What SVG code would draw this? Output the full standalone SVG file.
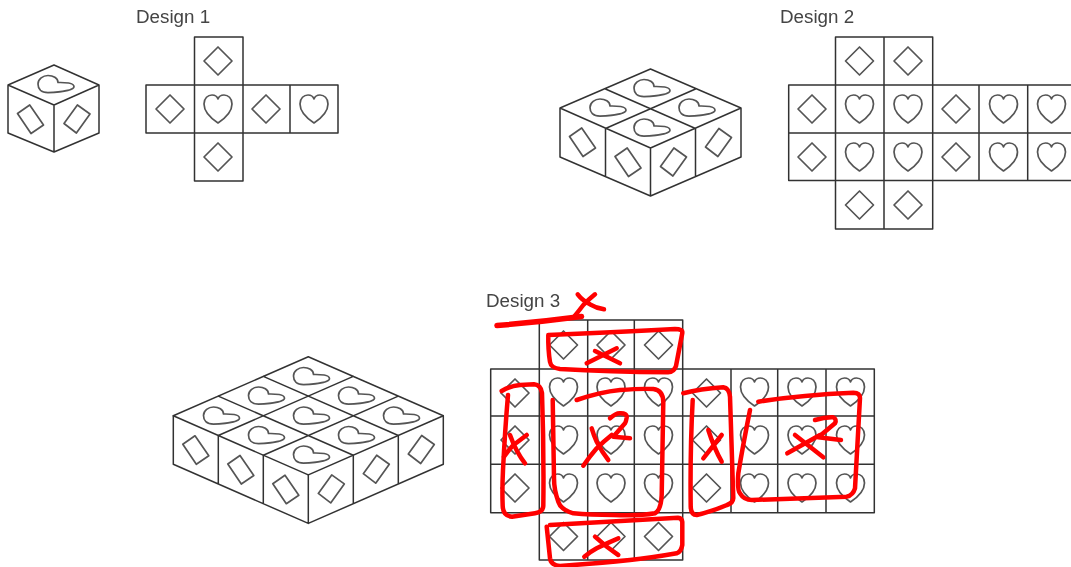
<svg xmlns="http://www.w3.org/2000/svg" width="1071" height="567" viewBox="0 0 1071 567">
<style>
.ln{fill:none;stroke:#333;stroke-width:1.5;stroke-linejoin:round;stroke-linecap:round}
.sh{fill:none;stroke:#555;stroke-width:1.7;stroke-linejoin:round}
.lb{font-family:"Liberation Sans",Arial,sans-serif;font-size:18.8px;fill:#444}
.rd{fill:none;stroke:#f00;stroke-width:4.5;stroke-linecap:round;stroke-linejoin:round}
</style>
<defs>
<filter id="soft" x="-2%" y="-2%" width="104%" height="104%"><feGaussianBlur stdDeviation="0.35"/></filter>
<path id="d" class="sh" d="M0,-14L14,0L0,14L-14,0Z"/>
<path id="h" class="sh" d="M0,14C-6,10 -14,4 -14,-5C-14,-11 -10,-14 -6,-14C-3,-14 -1,-13 0,-10C1,-13 3,-14 6,-14C10,-14 14,-11 14,-5C14,4 6,10 0,14Z"/>
<path id="t" class="sh" d="M18,2.700C18,6 6,8 -8,8.700C-15,8.700 -18,5 -18,0C-18,-5 -13,-8.500 -8,-8.500C-3,-8.500 2,-6 2,-1.500C7,-1.500 18,-2 18,2.700Z"/>
<path id="l" class="sh" d="M9.500,28.500L21.700,20L35.500,40L23,48.500Z"/>
<path id="r" class="sh" d="M10,18.500L23.400,0L36,9L22.400,28Z"/>
</defs>

<g id="design-1" filter="url(#soft)">
<text class="lb" x="136" y="22.500">Design 1</text>
<g id="cube-1">
<path class="ln" d="M54,65L99,85L54,105L8,85ZM8,85V133L54,152L99,133V85M54,105V152"/>
<use href="#t" x="56" y="84"/><use href="#l" x="8" y="85"/><use href="#r" x="54" y="105"/>
</g>
<g id="net-1">
<path class="ln" d="M194.500,37H243V181H194.500ZM146,85H338V133H146ZM194.500,85V133M243,85V133M290,85V133"/>
<use href="#d" x="218" y="61"/><use href="#d" x="170" y="109"/><use href="#h" x="218" y="109"/><use href="#d" x="266" y="109"/><use href="#h" x="314" y="109"/><use href="#d" x="218" y="157"/>
</g>
</g>

<g id="design-2" filter="url(#soft)">
<text class="lb" x="780" y="22.500">Design 2</text>
<g id="cube-2">
<path class="ln" d="M650.500,69L741,108L650.500,148L560,108ZM605.500,89L695.500,128.500M695.500,89L605.500,128.500M560,108V157L650.500,196L741,157V108M605.500,128.500V176.500M650.500,148V196M695.500,128.500V176.500"/>
<use href="#t" x="652" y="88"/><use href="#t" x="608" y="107.500"/><use href="#t" x="697" y="107.500"/><use href="#t" x="652" y="127.500"/>
<use href="#l" x="560" y="108"/><use href="#l" x="605.500" y="128"/><use href="#r" x="650.500" y="148"/><use href="#r" x="695.500" y="128.500"/>
</g>
<g id="net-2">
<path class="ln" d="M835.500,37H932.700V229H835.500ZM884,37V229M788.700,85H1072M788.700,133H1072M788.700,180.500H1072M788.700,85V180.500M979,85V180.500M1027.700,85V180.500"/>
<use href="#d" x="859.500" y="61"/><use href="#d" x="908" y="61"/>
<use href="#d" x="812" y="109"/><use href="#h" x="859.500" y="109"/><use href="#h" x="908" y="109"/><use href="#d" x="956" y="109"/><use href="#h" x="1003.500" y="109"/><use href="#h" x="1051.500" y="109"/>
<use href="#d" x="812" y="157"/><use href="#h" x="859.500" y="157"/><use href="#h" x="908" y="157"/><use href="#d" x="956" y="157"/><use href="#h" x="1003.500" y="157"/><use href="#h" x="1051.500" y="157"/>
<use href="#d" x="859.500" y="205"/><use href="#d" x="908" y="205"/>
</g>
</g>

<g id="design-3" filter="url(#soft)">
<text class="lb" x="486" y="306.500">Design 3</text>
<g id="cube-3">
<path class="ln" d="M308.300,356.700L443.300,415.800M263.300,376.400L398.300,435.500M218.300,396.100L353.300,455.200M173.300,415.800L308.300,474.900M308.300,356.700L173.300,415.800M353.300,376.400L218.300,435.500M398.300,396.100L263.300,455.200M443.300,415.800L308.300,474.900"/>
<path class="ln" d="M173.300,415.800V464.300L308.300,523.400L443.300,464.300V415.800M218.300,435.500V484M263.300,455.200V503.700M308.300,474.900V523.400M353.300,455.200V503.700M398.300,435.500V484"/>
<use href="#t" x="311.500" y="376"/><use href="#t" x="356.500" y="395.500"/><use href="#t" x="266.500" y="395.500"/><use href="#t" x="401.500" y="415.500"/><use href="#t" x="311.500" y="415.500"/><use href="#t" x="221.500" y="415.500"/><use href="#t" x="356.500" y="435"/><use href="#t" x="266.500" y="435"/><use href="#t" x="311.500" y="454.500"/>
<use href="#l" x="173.300" y="415.800"/><use href="#l" x="218.300" y="435.500"/><use href="#l" x="263.300" y="455.200"/>
<use href="#r" x="308.300" y="474.900"/><use href="#r" x="353.300" y="455.200"/><use href="#r" x="398.300" y="435.500"/>
</g>
<g id="net-3">
<path class="ln" d="M539.300,320H682.700V560H539.300ZM587.700,320V560M634.300,320V560M490.700,369H874.300V512.700H490.700ZM490.700,416H874.300M490.700,464.300H874.300M731,369V512.700M777.700,369V512.700M826,369V512.700"/>
<use href="#d" x="563.500" y="345"/><use href="#d" x="611" y="345"/><use href="#d" x="658.500" y="345"/>
<use href="#d" x="515" y="393"/><use href="#h" x="563.500" y="392"/><use href="#h" x="611" y="392"/><use href="#h" x="658.500" y="392"/><use href="#d" x="706.500" y="393"/><use href="#h" x="754.500" y="392"/><use href="#h" x="802" y="392"/><use href="#h" x="850.500" y="392"/>
<use href="#d" x="515" y="440"/><use href="#h" x="563.500" y="440"/><use href="#h" x="611" y="440"/><use href="#h" x="658.500" y="440"/><use href="#d" x="706.500" y="440"/><use href="#h" x="754.500" y="440"/><use href="#h" x="802" y="440"/><use href="#h" x="850.500" y="440"/>
<use href="#d" x="515" y="488"/><use href="#h" x="563.500" y="488"/><use href="#h" x="611" y="488"/><use href="#h" x="658.500" y="488"/><use href="#d" x="706.500" y="488"/><use href="#h" x="754.500" y="488"/><use href="#h" x="802" y="488"/><use href="#h" x="850.500" y="488"/>
<use href="#d" x="563.500" y="536.500"/><use href="#d" x="611" y="536.500"/><use href="#d" x="658.500" y="536.500"/>
</g>
</g>

<g id="annotations">
<path class="rd" style="stroke-width:5.500" d="M497,325.500Q540,322 581.500,316.500"/>
<path class="rd" d="M577.700,294.300Q582,300 590,304.300Q596,308 604,309.300M595,294.300Q588,300 583.300,305Q578,312 573.300,317.700"/>
<path class="rd" d="M548.300,335Q620,332 675,329Q683,329 682.300,333L676,366Q674,372 668,372.300Q610,372 560,369Q551,368 550,362Q548,350 548.300,335Z"/>
<path class="rd" d="M586.700,363.300L616.700,348.300M595,351L620,363.300"/>
<path class="rd" d="M501.700,391Q510,386 520,385L534,384.300Q541,385 542,393Q544,450 543.300,506Q543,512 535,513.300L512,516.700Q503,516 502.700,506Q502,490 503,470Q505,430 508,395"/>
<path class="rd" d="M510,435Q516,452 525,463.300M526.700,435Q515,444 513.300,445Q508,451 504,456.700"/>
<path class="rd" d="M576.700,400Q600,392 620,390Q640,388.500 653.300,389Q663,390 663.300,402L661.700,495Q661,510 655,513.300Q640,516 613.300,515Q590,515 573.300,513.300Q561,510 558.300,501.700Q554,490 554,478.300L552.700,400"/>
<path class="rd" d="M591.700,428.300Q594,436 596.700,441.700Q602,452 608.300,460M611.700,435Q603,442 596.700,448.300Q590,456 583.300,465.700"/>
<path class="rd" d="M610,418.300Q616,413 620,413.300Q627,413 626.700,417.500Q626,422 625,423.300L613.300,436.700L630,438.300"/>
<path class="rd" d="M550,525Q620,521 678,517.700Q682,518 682.300,522V545Q681,552 676.700,553.300Q650,558 630,560Q590,564 560,566Q551,565 550,558.300L546.700,526.700"/>
<path class="rd" d="M595,536.700Q606,547 618.300,555M618.300,538.300Q607,543 596.700,548.300Q590,552 584.300,556.700"/>
<path class="rd" d="M683.300,393.300Q700,389 723.300,387.300Q729,388 730,396.700L733.300,498Q733,503 727,505Q710,512 696.700,515Q691,515 690.700,506.700Q690,450 692.700,400"/>
<path class="rd" d="M708.300,430Q714,448 721.700,461.700M721.700,435L703.300,458.300"/>
<path class="rd" d="M750,410Q743,445 738.300,473.300Q737,490 740,493.300Q744,500 752,500L846.700,496.700Q853,495 855,488.300L860,398Q860,393 853.300,392.700Q800,395 758.300,401.700"/>
<path class="rd" d="M795,435L823.300,457.300M787.300,453.300L820,435"/>
<path class="rd" d="M815,420Q825,417 833,417.300Q837,419 835,423.300L818.300,437.300L841,440"/>
</g>
</svg>
